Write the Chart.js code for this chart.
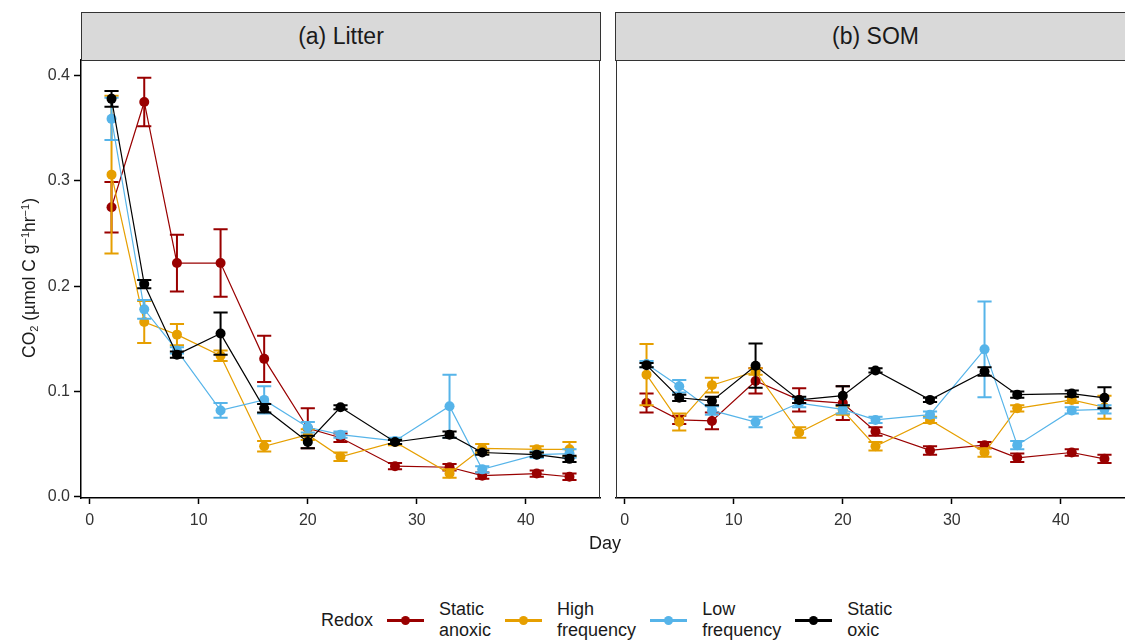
<!DOCTYPE html>
<html>
<head>
<meta charset="utf-8">
<title>CO2 by redox</title>
<script src="https://cdn.jsdelivr.net/npm/chart.js@4.4.1/dist/chart.umd.min.js"></script>
<style>
html, body { margin:0; padding:0; width:1125px; height:640px; overflow:hidden; background:#fff; }
body { font-family:"Liberation Sans", Arial, sans-serif; color:#1a1a1a; }
#wrap { position:relative; width:1125px; height:640px; overflow:hidden; }
#wrap canvas { position:absolute; top:0; }
#cA { left:0; }
#cB { left:604px; }
.strip { position:absolute; top:12px; height:49px; background:#d9d9d9; border:1px solid #333; box-sizing:border-box;
         text-align:center; line-height:46px; font-size:23px; color:#1a1a1a; }
#ytitle { position:absolute; left:25px; top:278px; width:300px; margin-left:-150px; margin-top:-11px; height:22px; line-height:22px;
          text-align:center; font-size:17.5px; transform:rotate(-90deg); white-space:nowrap; }
#ytitle sub, #ytitle sup { font-size:11px; }
#ytitle sub { vertical-align:-3px; }
#ytitle sup { vertical-align:6px; }
#xtitle { position:absolute; left:555px; width:100px; top:533px; line-height:20px; text-align:center; font-size:18px; }
#legend { position:absolute; left:321px; top:598px; height:44px; display:flex; align-items:center; font-size:18px; }
#legend .ttl { margin-right:14px; }
#legend .sym { position:relative; width:37px; height:10px; margin-right:15px; }
#legend .sym i { position:absolute; left:0; right:0; top:4px; height:2.5px; }
#legend .sym b { position:absolute; left:14px; top:0.5px; width:9px; height:9px; border-radius:50%; }
#legend .lab { line-height:21px; margin-right:14px; }
</style>
</head>
<body>
<div id="wrap">
  <canvas id="cA" width="612" height="560"></canvas>
  <canvas id="cB" width="545" height="560"></canvas>
  <div class="strip" style="left:81px;width:520px;">(a) Litter</div>
  <div class="strip" style="left:615px;width:521px;">(b) SOM</div>
  <div id="ytitle">CO<sub>2</sub> (µmol C g<sup>−1</sup>hr<sup>−1</sup>)</div>
  <div id="xtitle">Day</div>
  <div id="legend"><span class="ttl">Redox</span></div>
</div>
<script>
'use strict';
var FONT = "'Liberation Sans', Arial, sans-serif";

// sampling days
var days = [2, 5, 8, 12, 16, 20, 23, 28, 33, 36, 41, 44];
var xTicks = [0, 10, 20, 30, 40];
var yTicks = [0, 0.1, 0.2, 0.3, 0.4];

var seriesNames  = ['Static\nanoxic', 'High\nfrequency', 'Low\nfrequency', 'Static\noxic'];
var seriesColors = ['#990000', '#E69F00', '#56B4E9', '#000000'];

// (a) Litter: means and error half-widths
var litterAnoxic   = [0.275, 0.375, 0.222, 0.222, 0.131, 0.065, 0.056, 0.029, 0.028, 0.020, 0.022, 0.019];
var litterAnoxicSe = [0.024, 0.023, 0.027, 0.032, 0.022, 0.019, 0.004, 0.003, 0.003, 0.003, 0.003, 0.003];
var litterHigh     = [0.306, 0.166, 0.154, 0.134, 0.048, 0.059, 0.038, 0.052, 0.022, 0.046, 0.045, 0.045];
var litterHighSe   = [0.075, 0.020, 0.010, 0.005, 0.005, 0.005, 0.004, 0.003, 0.004, 0.004, 0.003, 0.007];
var litterLow      = [0.359, 0.178, 0.139, 0.082, 0.092, 0.066, 0.059, 0.053, 0.086, 0.026, 0.040, 0.041];
var litterLowSe    = [0.020, 0.009, 0.003, 0.007, 0.013, 0.005, 0.003, 0.003, 0.030, 0.003, 0.003, 0.004];
var litterOxic     = [0.378, 0.202, 0.135, 0.155, 0.084, 0.052, 0.085, 0.052, 0.059, 0.042, 0.040, 0.036];
var litterOxicSe   = [0.0075, 0.004, 0.003, 0.020, 0.004, 0.006, 0.002, 0.002, 0.003, 0.002, 0.002, 0.003];

// (b) SOM
var somAnoxic   = [0.089, 0.073, 0.072, 0.110, 0.092, 0.089, 0.062, 0.044, 0.049, 0.037, 0.042, 0.036];
var somAnoxicSe = [0.009, 0.004, 0.008, 0.012, 0.011, 0.016, 0.004, 0.004, 0.003, 0.004, 0.003, 0.004];
var somHigh     = [0.116, 0.071, 0.106, 0.119, 0.061, 0.082, 0.048, 0.073, 0.042, 0.084, 0.092, 0.085];
var somHighSe   = [0.029, 0.008, 0.007, 0.003, 0.005, 0.004, 0.004, 0.003, 0.004, 0.003, 0.003, 0.011];
var somLow      = [0.126, 0.105, 0.082, 0.071, 0.089, 0.083, 0.073, 0.078, 0.140, 0.049, 0.082, 0.083];
var somLowSe    = [0.003, 0.006, 0.004, 0.005, 0.004, 0.004, 0.003, 0.003, 0.0455, 0.004, 0.003, 0.004];
var somOxic     = [0.125, 0.094, 0.091, 0.1245, 0.092, 0.096, 0.120, 0.092, 0.119, 0.097, 0.098, 0.094];
var somOxicSe   = [0.002, 0.003, 0.004, 0.021, 0.003, 0.009, 0.002, 0.002, 0.004, 0.003, 0.003, 0.010];

var X_MIN = -0.8, X_MAX = 46.8;
var Y_MIN = -0.0012, Y_MAX = 0.4149;
var CAP = 0.65; // half width of error bar caps, in days

function makeDataset(i, vals, errs) {
    return {
        label: seriesNames[i].replace('\n', ' '),
        data: days.map(function(d, k) { return { x: d, y: vals[k] }; }),
        errors: errs,
        borderColor: seriesColors[i],
        backgroundColor: seriesColors[i],
        borderWidth: 1.2,
        pointRadius: 5,
        pointBorderWidth: 0,
        pointHoverRadius: 5,
        showLine: true,
        tension: 0,
        order: 4 - i
    };
}

// error bars drawn right before each series
var errorBars = {
    id: 'errorBars',
    beforeDatasetDraw: function(chart, args) {
        var ds = chart.data.datasets[args.index];
        if (!ds.errors) return;
        var xs = chart.scales.x, ys = chart.scales.y, ctx = chart.ctx;
        ctx.save();
        ctx.strokeStyle = ds.borderColor;
        ctx.lineWidth = 2;
        ds.data.forEach(function(p, k) {
            var e = ds.errors[k];
            var x = xs.getPixelForValue(p.x);
            var w = xs.getPixelForValue(p.x + CAP) - x;
            var y0 = ys.getPixelForValue(p.y - e), y1 = ys.getPixelForValue(p.y + e);
            ctx.beginPath();
            ctx.moveTo(x, y0); ctx.lineTo(x, y1);
            ctx.moveTo(x - w, y0); ctx.lineTo(x + w, y0);
            ctx.moveTo(x - w, y1); ctx.lineTo(x + w, y1);
            ctx.stroke();
        });
        ctx.restore();
    }
};

// grey panel frame (top, right, and left when no y axis)
var panelFrame = {
    id: 'panelFrame',
    afterDraw: function(chart, args, opts) {
        var a = chart.chartArea, ctx = chart.ctx;
        ctx.save();
        ctx.strokeStyle = '#333';
        ctx.lineWidth = 1;
        ctx.beginPath();
        ctx.moveTo(a.left, a.top + 0.5); ctx.lineTo(a.right, a.top + 0.5);
        ctx.moveTo(a.right - 0.5, a.top); ctx.lineTo(a.right - 0.5, a.bottom);
        if (opts.left) { ctx.moveTo(a.left + 0.5, a.top); ctx.lineTo(a.left + 0.5, a.bottom); }
        ctx.stroke();
        ctx.restore();
    }
};

function makeOptions(showY, pad) {
    return {
        responsive: false,
        animation: false,
        layout: { padding: pad },
        plugins: {
            legend: { display: false },
            tooltip: { enabled: false },
            panelFrame: { left: !showY }
        },
        scales: {
            x: {
                type: 'linear', min: X_MIN, max: X_MAX,
                afterBuildTicks: function(s) { s.ticks = xTicks.map(function(v) { return { value: v }; }); },
                afterFit: function(s) { s.height = 62; },
                grid: { drawOnChartArea: false, drawTicks: true, tickLength: 6, tickColor: '#000', tickWidth: 1.5 },
                border: { display: true, color: '#000', width: 1.5 },
                ticks: { font: { family: FONT, size: 16 }, color: '#333', padding: 7, maxRotation: 0, autoSkip: false }
            },
            y: {
                type: 'linear', min: Y_MIN, max: Y_MAX, display: showY,
                afterBuildTicks: function(s) { s.ticks = yTicks.map(function(v) { return { value: v }; }); },
                afterFit: function(s) { s.width = showY ? 81 : 0; },
                grid: { drawOnChartArea: false, drawTicks: true, tickLength: 7, tickColor: '#000', tickWidth: 1.5 },
                border: { display: true, color: '#000', width: 1.5 },
                ticks: { font: { family: FONT, size: 16 }, color: '#333', padding: 4,
                         callback: function(v) { return v.toFixed(1); } }
            }
        }
    };
}

Chart.defaults.font.family = FONT;

new Chart(document.getElementById('cA'), {
    type: 'scatter',
    data: { datasets: [
        makeDataset(0, litterAnoxic, litterAnoxicSe),
        makeDataset(1, litterHigh, litterHighSe),
        makeDataset(2, litterLow, litterLowSe),
        makeDataset(3, litterOxic, litterOxicSe)
    ] },
    options: makeOptions(true, { top: 60, right: 12, bottom: 0, left: 0 }),
    plugins: [errorBars, panelFrame]
});

new Chart(document.getElementById('cB'), {
    type: 'scatter',
    data: { datasets: [
        makeDataset(0, somAnoxic, somAnoxicSe),
        makeDataset(1, somHigh, somHighSe),
        makeDataset(2, somLow, somLowSe),
        makeDataset(3, somOxic, somOxicSe)
    ] },
    options: makeOptions(false, { top: 60, right: 14, bottom: 0, left: 12 }),
    plugins: [errorBars, panelFrame]
});

// legend (html)
var lg = document.getElementById('legend');
seriesNames.forEach(function(n, i) {
    var s = document.createElement('span');
    s.className = 'sym';
    s.innerHTML = '<i style="background:' + seriesColors[i] + '"></i><b style="background:' + seriesColors[i] + '"></b>';
    lg.appendChild(s);
    var l = document.createElement('span');
    l.className = 'lab';
    l.innerHTML = n.replace('\n', '<br>');
    lg.appendChild(l);
});
</script>
</body>
</html>
